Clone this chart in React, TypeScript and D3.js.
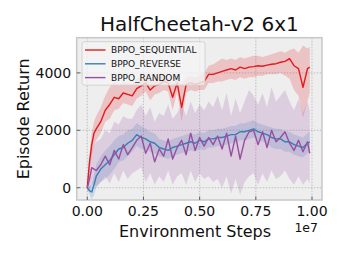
import * as d3 from "d3";

// environment steps, in units of 1e7
const steps = [0, 0.01, 0.02, 0.03, 0.04, 0.06, 0.08, 0.1, 0.12, 0.14, 0.16, 0.18, 0.2, 0.22, 0.24, 0.26, 0.28, 0.3, 0.32, 0.34, 0.36, 0.38, 0.4, 0.42, 0.44, 0.46, 0.48, 0.5, 0.52, 0.54, 0.56, 0.58, 0.6, 0.62, 0.64, 0.66, 0.68, 0.7, 0.72, 0.74, 0.76, 0.78, 0.8, 0.82, 0.84, 0.86, 0.88, 0.9, 0.92, 0.94, 0.96, 0.98, 0.99];

const seqMean = [0, 900, 1500, 1900, 2050, 2300, 2700, 2900, 3150, 3100, 3300, 3250, 3200, 3450, 3550, 3650, 3400, 3550, 3600, 3700, 3650, 3150, 3650, 2800, 3600, 3650, 3600, 3650, 3700, 3950, 3950, 4000, 4050, 4100, 4150, 4100, 4200, 4150, 4200, 4220, 4250, 4230, 4270, 4300, 4320, 4370, 4400, 4500, 4250, 4150, 3500, 4150, 4200];
const seqUpper = [100, 1200, 1900, 2300, 2500, 2800, 3200, 3500, 3700, 3550, 3700, 3650, 3600, 3800, 3900, 3950, 3750, 3850, 3900, 3950, 3900, 3600, 3900, 3600, 3850, 3900, 3850, 3900, 4000, 4250, 4300, 4400, 4500, 4450, 4500, 4450, 4550, 4500, 4550, 4600, 4600, 4550, 4600, 4650, 4700, 4750, 4700, 4800, 4850, 4700, 4950, 4850, 4900];
const seqLower = [-100, 600, 1100, 1500, 1650, 1900, 2300, 2400, 2700, 2750, 2950, 2900, 2850, 3100, 3200, 3350, 3050, 3250, 3300, 3400, 3350, 2700, 3350, 2300, 3300, 3400, 3350, 3400, 3400, 3650, 3650, 3700, 3700, 3750, 3800, 3750, 3850, 3800, 3850, 3850, 3900, 3900, 3950, 3950, 3950, 4000, 3900, 3800, 3400, 3200, 2450, 3000, 3300];

const revMean = [0, -100, -150, 100, 400, 650, 800, 950, 1150, 1350, 1400, 1550, 1650, 1850, 1750, 1700, 1600, 1550, 1400, 1350, 1300, 1400, 1450, 1500, 1550, 1600, 1550, 1650, 1600, 1700, 1700, 1750, 1750, 1800, 1850, 1850, 1950, 1950, 2000, 2050, 1950, 1900, 1850, 1750, 1700, 1700, 1600, 1600, 1500, 1450, 1400, 1550, 1600];
const revUpper = [50, 50, 100, 450, 800, 1100, 1300, 1450, 1650, 1800, 1850, 2000, 2050, 2250, 2150, 2050, 1950, 1900, 1700, 1650, 1600, 1700, 1750, 1800, 1850, 1900, 1850, 1950, 1900, 2000, 2000, 2050, 2050, 2100, 2150, 2150, 2250, 2250, 2300, 2350, 2250, 2200, 2150, 2100, 2050, 2050, 1950, 1950, 1850, 1800, 1750, 1900, 1950];
const revLower = [-50, -250, -400, -250, 0, 200, 300, 450, 650, 900, 950, 1100, 1250, 1450, 1350, 1350, 1250, 1200, 1100, 1050, 1000, 1100, 1150, 1200, 1250, 1300, 1250, 1350, 1300, 1400, 1400, 1450, 1450, 1500, 1550, 1550, 1650, 1650, 1700, 1750, 1650, 1600, 1550, 1400, 1350, 1350, 1250, 1250, 1150, 1100, 1050, 1200, 1250];

const randMean = [0, 300, 700, 650, 600, 800, 1100, 800, 1300, 1000, 1500, 1150, 1400, 1650, 1800, 1200, 1550, 900, 1350, 1100, 1700, 1000, 1400, 1650, 1150, 1900, 1300, 1750, 1450, 1750, 1500, 1800, 1350, 1900, 1100, 1800, 1000, 1650, 1950, 2000, 1500, 1950, 1400, 2000, 1600, 1750, 1950, 1550, 1300, 1650, 1250, 1600, 1200];
const randUpper = [150, 800, 1300, 1500, 1600, 1700, 2000, 1900, 2300, 2200, 2500, 2400, 2400, 2700, 2900, 2500, 2800, 2300, 2600, 2500, 2900, 2400, 2600, 2900, 2500, 3000, 2600, 2900, 2700, 3000, 2800, 3200, 2700, 3300, 2500, 3100, 2600, 3000, 3400, 3200, 2900, 3300, 2800, 3500, 3000, 3200, 3400, 3000, 2700, 3100, 2600, 3000, 2700];
const randLower = [-150, -100, 100, 100, 50, 200, 400, 150, 500, 200, 600, 300, 500, 600, 700, 200, 500, 100, 400, 200, 600, 100, 400, 500, 100, 600, 200, 500, 300, 400, 200, 300, 0, 400, -200, 300, -250, 200, 400, 500, 100, 500, 200, 600, 300, 400, 600, 300, 100, 400, 100, 300, 150];

const seriesNames = ["BPPO_SEQUENTIAL", "BPPO_REVERSE", "BPPO_RANDOM"];
const seriesColors = ["#e41a1c", "#377eb8", "#984ea3"];
const xTicks = [0, 0.25, 0.5, 0.75, 1.0];
const yTicks = [0, 2000, 4000];

const W = 339;
const H = 255;
const left = 76.7;
const right = 322;
const top = 37.7;
const bottom = 200;
const font = "DejaVu Sans, sans-serif";

const App = () => {
  const x = d3.scaleLinear().domain([-0.047, 1.0445]).range([left, right]);
  const y = d3.scaleLinear().domain([-428, 5226]).range([bottom, top]);

  const line = d3
    .line<number>()
    .x((_, i) => x(steps[i]))
    .y((d) => y(d));

  const band = (lo: number[], hi: number[]) =>
    d3
      .area<number>()
      .x((_, i) => x(steps[i]))
      .y0((_, i) => y(lo[i]))
      .y1((_, i) => y(hi[i]))(lo) ?? "";

  const series = [
    { mean: seqMean, lo: seqLower, hi: seqUpper },
    { mean: revMean, lo: revLower, hi: revUpper },
    { mean: randMean, lo: randLower, hi: randUpper },
  ];

  return (
    <svg
      width={W}
      height={H}
      viewBox={`0 0 ${W} ${H}`}
      style={{ position: "absolute", left: 0, top: 0, background: "#fff" }}
      fontFamily={font}
    >
      <rect x={left} y={top} width={right - left} height={bottom - top} fill="#eeeeee" />

      {/* grid */}
      {xTicks.map((t) => (
        <line key={`gx${t}`} x1={x(t)} x2={x(t)} y1={top} y2={bottom} stroke="#b2b2b2" strokeWidth={0.8} strokeDasharray="1.5,1.5" />
      ))}
      {yTicks.map((t) => (
        <line key={`gy${t}`} x1={left} x2={right} y1={y(t)} y2={y(t)} stroke="#b2b2b2" strokeWidth={0.8} strokeDasharray="1.5,1.5" />
      ))}

      <defs>
        <clipPath id="plot">
          <rect x={left} y={top} width={right - left} height={bottom - top} />
        </clipPath>
      </defs>

      <g clipPath="url(#plot)">
        {series.map((s, i) => (
          <path key={`b${i}`} d={band(s.lo, s.hi)} fill={seriesColors[i]} fillOpacity={0.2} stroke="none" />
        ))}
        {series.map((s, i) => (
          <path key={`l${i}`} d={line(s.mean) ?? ""} fill="none" stroke={seriesColors[i]} strokeWidth={1.4} strokeLinejoin="round" />
        ))}
      </g>

      {/* frame */}
      <rect x={left} y={top} width={right - left} height={bottom - top} fill="none" stroke="#c8c8c8" strokeWidth={1.5} />

      {/* ticks, pointing inward */}
      {xTicks.map((t) => (
        <g key={`tx${t}`}>
          <line x1={x(t)} x2={x(t)} y1={bottom} y2={bottom - 3.5} stroke="#444" strokeWidth={0.8} />
          <text x={x(t)} y={216} fontSize={14} textAnchor="middle" fill="#111">
            {t.toFixed(2)}
          </text>
        </g>
      ))}
      {yTicks.map((t) => (
        <g key={`ty${t}`}>
          <line x1={left} x2={left + 3.5} y1={y(t)} y2={y(t)} stroke="#444" strokeWidth={0.8} />
          <text x={left - 5.5} y={y(t) + 5} fontSize={14} textAnchor="end" fill="#111">
            {t}
          </text>
        </g>
      ))}

      <text x={318} y={231.5} fontSize={12.5} textAnchor="end" fill="#111">
        1e7
      </text>
      <text x={195} y={237} fontSize={16} textAnchor="middle" fill="#111">
        Environment Steps
      </text>
      <text transform={`translate(29, ${(top + bottom) / 2}) rotate(-90)`} fontSize={16} textAnchor="middle" fill="#111">
        Episode Return
      </text>
      <text x={(left + right) / 2} y={31} fontSize={20} textAnchor="middle" fill="#111">
        HalfCheetah-v2 6x1
      </text>

      {/* legend */}
      <rect x={82} y={41.7} width={123} height={43.5} rx={2.5} fill="#f4f4f4" fillOpacity={0.8} stroke="#cccccc" strokeWidth={0.8} />
      {seriesNames.map((name, i) => {
        const ly = 50 + i * 13.8;
        return (
          <g key={name}>
            <line x1={85} x2={105.5} y1={ly} y2={ly} stroke={seriesColors[i]} strokeWidth={1.4} />
            <text x={111} y={ly + 3.3} fontSize={9} fill="#111">
              {name}
            </text>
          </g>
        );
      })}
    </svg>
  );
};

export default App;
